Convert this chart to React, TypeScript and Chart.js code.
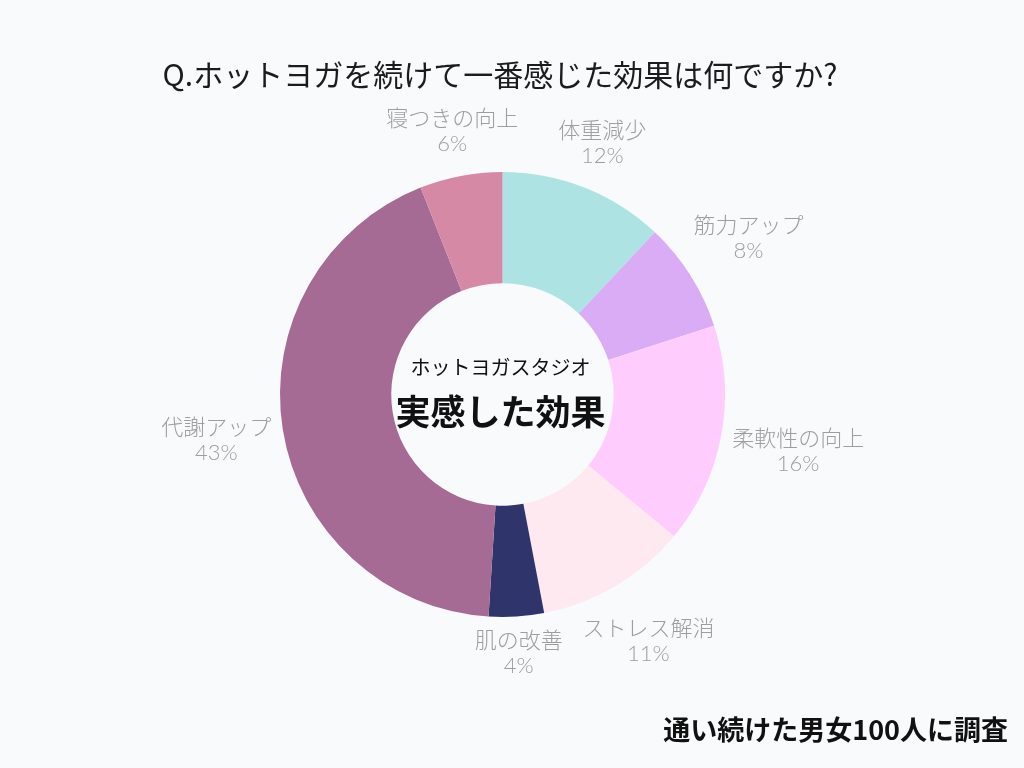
import React, { useEffect, useRef } from "react";
import { Chart, registerables } from "chart.js";

Chart.register(...registerables);

const categories = ["体重減少", "筋力アップ", "柔軟性の向上", "ストレス解消", "肌の改善", "代謝アップ", "寝つきの向上"];
const percents = [12, 8, 16, 11, 4, 43, 6];
const sliceColors = ["#ade4e3", "#d9acf5", "#fecdfe", "#fde9ef", "#2f346b", "#a56b94", "#d689a4"];
const titleText = "Q.ホットヨガを続けて一番感じた効果は何ですか?";
const centerSub = "ホットヨガスタジオ";
const centerMain = "実感した効果";
const footnote = "通い続けた男女100人に調査";

const JP = "'Noto Sans CJK JP', 'Noto Sans', sans-serif";
const LABEL_FONT = "300 22px Lato, 'Noto Sans CJK JP', sans-serif";

const textPlugin = {
  id: "textPlugin",
  afterDraw(chart: any) {
    const ctx = chart.ctx as CanvasRenderingContext2D;
    const meta = chart.getDatasetMeta(0);
    ctx.save();
    ctx.textAlign = "center";
    ctx.textBaseline = "middle";

    // title
    ctx.fillStyle = "#1c1c1c";
    ctx.font = `30px ${JP}`;
    ctx.fillText(titleText, 500, 75);

    // footnote
    ctx.textAlign = "right";
    ctx.fillStyle = "#111111";
    ctx.font = `bold 27px ${JP}`;
    ctx.fillText(footnote, 1008, 730);

    // outer labels
    ctx.textAlign = "center";
    ctx.fillStyle = "#9e9e9e";
    ctx.font = LABEL_FONT;
    let cxC = 0, cyC = 0;
    meta.data.forEach((arc: any, i: number) => {
      const p = arc.getProps(["x", "y", "startAngle", "endAngle", "outerRadius"], true);
      cxC = p.x; cyC = p.y;
      const mid = (p.startAngle + p.endAngle) / 2;
      const vx = Math.cos(mid);
      const vy = Math.sin(mid);
      const lines = [categories[i], `${percents[i]}%`];
      const w = Math.max(...lines.map((l) => ctx.measureText(l).width));
      const h = 50;
      const d = p.outerRadius + 9 + Math.abs((w / 2) * vx) + Math.abs((h / 2) * vy);
      const lx = p.x + vx * d;
      const ly = p.y + vy * d;
      ctx.fillText(lines[0], lx, ly - 12);
      ctx.fillText(lines[1], lx, ly + 13);
    });

    // center text
    ctx.fillStyle = "#111111";
    ctx.font = `20px ${JP}`;
    ctx.fillText(centerSub, cxC - 2, cyC - 27);
    ctx.font = `bold 35px ${JP}`;
    ctx.fillText(centerMain, cxC - 2, cyC + 17);
    ctx.restore();
  },
};

export default function App() {
  const ref = useRef<HTMLCanvasElement | null>(null);
  useEffect(() => {
    if (!ref.current) return;
    const chart = new Chart(ref.current, {
      type: "doughnut",
      data: {
        labels: categories,
        datasets: [
          {
            data: percents,
            backgroundColor: sliceColors,
            borderWidth: 0,
            hoverOffset: 0,
          },
        ],
      },
      options: {
        responsive: false,
        animation: false,
        cutout: "50%",
        layout: { padding: { left: 280, right: 299, top: 172, bottom: 151 } },
        plugins: {
          legend: { display: false },
          tooltip: { enabled: false },
          title: { display: false },
        },
      },
      plugins: [textPlugin],
    });
    return () => chart.destroy();
  }, []);
  return (
    <div style={{ position: "absolute", left: 0, top: 0, width: 1024, height: 768, background: "#f8fafc" }}>
      <canvas ref={ref} width={1024} height={768} style={{ display: "block" }} />
    </div>
  );
}
